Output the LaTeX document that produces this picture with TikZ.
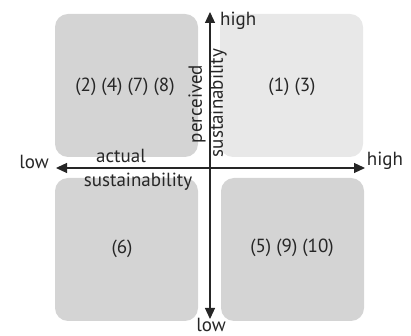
\documentclass[tikz,border=0pt]{standalone}
\usepackage{fontspec}
\setmainfont{PT Sans}
\usetikzlibrary{arrows.meta}
\definecolor{boxdark}{HTML}{D4D4D4}
\definecolor{boxlight}{HTML}{E8E8E8}
\definecolor{ink}{HTML}{262626}
\tikzset{
  quad/.style={rounded corners=13pt, draw=none},
  axis/.style={line width=1.2pt, draw=ink, -{Triangle[length=11pt,width=10pt]}},
  lbl/.style={font=\fontsize{19}{21}\selectfont, inner sep=0pt, text=ink},
}
\begin{document}
\begin{tikzpicture}[x=1pt,y=1pt]
\useasboundingbox (0,0) rectangle (411,336);
\fill[quad, boxdark] (55,179) rectangle (198,322);
\fill[quad, boxlight] (220,179) rectangle (363,322);
\fill[quad, boxdark] (55,15) rectangle (198,158);
\fill[quad, boxdark] (221,15) rectangle (364,158);
\coordinate (c) at (210,168);
\coordinate (top) at (210,324);
\coordinate (bot) at (210,17);
\coordinate (lft) at (56,168);
\coordinate (rgt) at (365,168);
\draw[axis] (c) -- (top);
\draw[axis] (c) -- (bot);
\draw[axis] (c) -- (lft);
\draw[axis] (c) -- (rgt);
\node[lbl, anchor=west] (hightop) at (220,315) {high};
\node[lbl] (lowleft) at (34,174) {low};
\node[lbl] (highright) at (385,175) {high};
\node[lbl, anchor=base] (lowbot) at (211,4) {low};
\node[lbl] (actual) at (121,180) {actual};
\node[lbl] (susth) at (138,154) {sustainability};
\node[lbl, rotate=90] (perc) at (197,232) {perceived};
\node[lbl, rotate=90] (sustv) at (218,233) {sustainability};
\node[lbl] (q2) at (125,249) {(2) (4) (7) (8)};
\node[lbl] (q1) at (292,249) {(1) (3)};
\node[lbl] (q3) at (122,87) {(6)};
\node[lbl] (q4) at (292,88) {(5) (9) (10)};
\end{tikzpicture}
\end{document}
